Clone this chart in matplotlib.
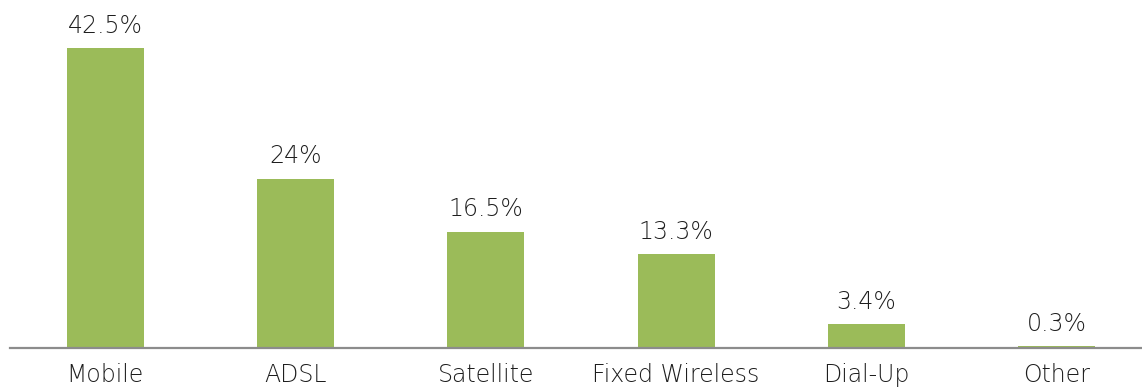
import matplotlib.pyplot as plt

# Connection types and their share of users (%)
categories = ['Mobile', 'ADSL', 'Satellite', 'Fixed Wireless', 'Dial-Up', 'Other']
shares = [42.5, 24, 16.5, 13.3, 3.4, 0.3]
labels = ['42.5%', '24%', '16.5%', '13.3%', '3.4%', '0.3%']

plt.rcParams['font.family'] = ['DejaVu Sans']

fig = plt.figure(figsize=(11.42, 3.88), dpi=100)
ax = fig.add_axes([10 / 1142, 40 / 388, 1.0, 348 / 388])

x = range(len(categories))
bars = ax.bar(x, shares, width=0.404, color='#9BBB59', zorder=2)

for b, lab in zip(bars, labels):
    ax.annotate(lab, (b.get_x() + b.get_width() / 2, b.get_height()),
                xytext=(0, 11), textcoords='offset points',
                ha='center', va='baseline', fontsize=17, color='#1e1e1e',
                fontweight='light')

ax.set_xlim(-0.5, len(categories) - 0.5)
ax.set_ylim(0, 49.3)
ax.set_xticks(list(x))
ax.set_xticklabels(categories, fontsize=17, color='#1e1e1e', fontweight='light')
ax.tick_params(axis='x', length=0, pad=11)
ax.set_yticks([])

for s in ['top', 'right', 'left']:
    ax.spines[s].set_visible(False)
ax.spines['bottom'].set_color('#8c8c8c')
ax.spines['bottom'].set_linewidth(1.6)
ax.spines['bottom'].set_zorder(3)

fig.savefig('out.png', dpi=100)
